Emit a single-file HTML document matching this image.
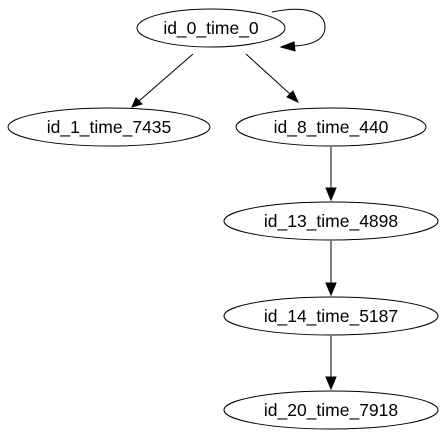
<!DOCTYPE html>
<html><head><style>html,body{margin:0;padding:0;background:#fff}</style></head>
<body>
<svg width="448" height="443" viewBox="0 0 448 443" xmlns="http://www.w3.org/2000/svg" font-family="Liberation Sans, sans-serif" font-size="17.5">
<g fill="none" stroke="#000" stroke-width="1">
<ellipse cx="211" cy="28" rx="74" ry="19"/>
<ellipse cx="109" cy="127" rx="101" ry="19"/>
<ellipse cx="331" cy="127" rx="95" ry="19"/>
<ellipse cx="331" cy="221" rx="107" ry="19"/>
<ellipse cx="331" cy="316" rx="107" ry="19"/>
<ellipse cx="331" cy="410" rx="107" ry="19"/>
<path d="M272,12 C305,5 325,12 325,27 C325,40 312,45 294,46"/>
<line x1="193" y1="54" x2="139" y2="101"/>
<line x1="246" y1="54" x2="290" y2="94"/>
<line x1="331" y1="147" x2="331" y2="190"/>
<line x1="331" y1="241" x2="331" y2="285"/>
<line x1="331" y1="336" x2="331" y2="379"/>
</g>
<g fill="#000" stroke="#000">
<polygon points="281,47 294,42 295,51"/>
<polygon points="132,107 136,98 142,104"/>
<polygon points="298,102 287,97 293,91"/>
<polygon points="331,200 326,188 336,188"/>
<polygon points="331,295 326,283 336,283"/>
<polygon points="331,389 326,377 336,377"/>
</g>
<g text-anchor="middle" fill="#000">
<text x="211" y="34">id_0_time_0</text>
<text x="109" y="133">id_1_time_7435</text>
<text x="331" y="133">id_8_time_440</text>
<text x="331" y="227">id_13_time_4898</text>
<text x="331" y="322">id_14_time_5187</text>
<text x="331" y="416">id_20_time_7918</text>
</g>
</svg>
</body></html>
